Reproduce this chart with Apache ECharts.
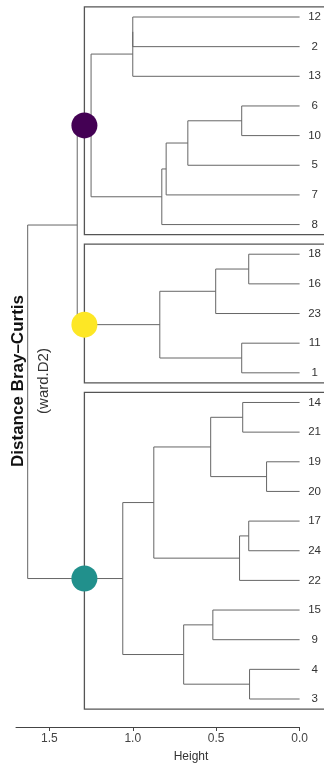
<!DOCTYPE html>
<html>
<head>
<meta charset="utf-8">
<script src="https://cdn.jsdelivr.net/npm/echarts@6/dist/echarts.min.js"></script>
<style>
html,body{margin:0;padding:0;background:#fff;}
#chart{width:324px;height:766px;}
</style>
</head>
<body>
<div id="chart"></div>
<script>
// Leaf order (top to bottom)
const leafLabels = ['12','2','13','6','10','5','7','8','18','16','23','11','1','14','21','19','20','17','24','22','15','9','4','3'];
// R-style merge table: negative = leaf label number, positive = earlier merge row (1-based)
const mergeA = [-19, -4, -18, -17, -14, -6, -11, 4, 3, -15, 5, 6, 10, 12, 14, 9, 11, -12, 18, 17, 19, 21, 22];
const mergeB = [-20, -3, -16, -24, -21, -10, -1, -22, -23, -9, 1, -5, 2, -7, -8, 7, 8, -2, -13, 13, 15, 16, 20];
const mergeHeight = [0.198, 0.30, 0.305, 0.305, 0.341, 0.347, 0.347, 0.36, 0.503, 0.52, 0.533, 0.67, 0.695, 0.80, 0.826, 0.838, 0.874, 1.00, 1.00, 1.06, 1.25, 1.333, 1.63];
// Clusters (k = 3): first and last leaf, root merge row, colour
const clusterFirst = ['12', '18', '14'];
const clusterLast = ['8', '1', '3'];
const clusterRoot = [21, 16, 20];
const clusterColor = ['#440154', '#FDE725', '#21908C'];
const cutHeight = 1.29;
// Axis ticks
const xTicks = [0, 0.5, 1.0, 1.5];

// ---- derive positions ----
const leafPos = {};
leafLabels.forEach((l, i) => leafPos[l] = i);
const nodeY = [], nodeH = [];
function childY(c) { return c < 0 ? leafPos[String(-c)] : nodeY[c - 1]; }
function childH(c) { return c < 0 ? 0 : nodeH[c - 1]; }
const segments = [];
for (let i = 0; i < mergeA.length; i++) {
  const a = mergeA[i], b = mergeB[i], h = mergeHeight[i];
  const ya = childY(a), yb = childY(b);
  nodeY.push((ya + yb) / 2);
  nodeH.push(h);
  segments.push([h, ya, h, yb]);
  segments.push([childH(a), ya, h, ya]);
  segments.push([childH(b), yb, h, yb]);
}
const boxes = clusterFirst.map((f, i) => [cutHeight, leafPos[f], leafPos[clusterLast[i]]]);
const circles = clusterRoot.map((r, i) => ({ value: [cutHeight, nodeY[r - 1]], itemStyle: { color: clusterColor[i], opacity: 1 } }));

const FONT = "'Liberation Sans', Arial, Helvetica, sans-serif";
const chart = echarts.init(document.getElementById('chart'), null, { renderer: 'canvas' });
chart.setOption({
  animation: false,
  backgroundColor: '#fff',
  grid: { left: 16, right: 24, top: 17, bottom: 67 },
  xAxis: {
    type: 'value', min: 0, max: 1.7, inverse: true, position: 'bottom', offset: 28,
    axisLine: { show: true, onZero: false, lineStyle: { color: '#444', width: 1 } },
    axisTick: { show: true, customValues: xTicks, length: 4, lineStyle: { color: '#444' } },
    axisLabel: { customValues: xTicks, formatter: v => Number(v).toFixed(1), color: '#444', fontSize: 12, fontFamily: FONT, margin: 6 },
    splitLine: { show: false }
  },
  yAxis: {
    type: 'value', min: 0, max: 23, interval: 1, inverse: true, position: 'right',
    axisLine: { show: false }, axisTick: { show: false }, splitLine: { show: false },
    axisLabel: { formatter: v => leafLabels[v] || '', align: 'center', margin: 15, color: '#333', fontSize: 11.5, fontFamily: FONT }
  },
  graphic: [
    { type: 'text', x: 18, y: 381, rotation: Math.PI / 2, style: { text: 'Distance Bray–Curtis', font: 'bold 17px ' + FONT, fill: '#111', align: 'center', verticalAlign: 'middle' } },
    { type: 'text', x: 44, y: 381, rotation: Math.PI / 2, style: { text: '(ward.D2)', font: '15px ' + FONT, fill: '#333', align: 'center', verticalAlign: 'middle' } },
    { type: 'text', x: 191, y: 757, style: { text: 'Height', font: '12px ' + FONT, fill: '#333', align: 'center', verticalAlign: 'middle' } }
  ],
  series: [
    {
      type: 'custom', clip: false, z: 1,
      data: boxes,
      renderItem: (params, api) => {
        const p1 = api.coord([api.value(0), api.value(1) - 0.34]);
        const p2 = api.coord([-0.3, api.value(2) + 0.34]);
        return { type: 'rect', shape: { x: p1[0], y: p1[1], width: p2[0] - p1[0], height: p2[1] - p1[1] },
          style: { fill: 'none', stroke: '#555', lineWidth: 1.3 } };
      }
    },
    {
      type: 'custom', clip: false, z: 2,
      data: segments,
      renderItem: (params, api) => {
        const p1 = api.coord([api.value(0), api.value(1)]);
        const p2 = api.coord([api.value(2), api.value(3)]);
        return { type: 'line', shape: { x1: p1[0], y1: p1[1], x2: p2[0], y2: p2[1] },
          style: { stroke: '#666', lineWidth: 1 } };
      }
    },
    {
      type: 'scatter', z: 3, symbol: 'circle', symbolSize: 26,
      itemStyle: { opacity: 1 },
      data: circles
    }
  ]
});
</script>
</body>
</html>
